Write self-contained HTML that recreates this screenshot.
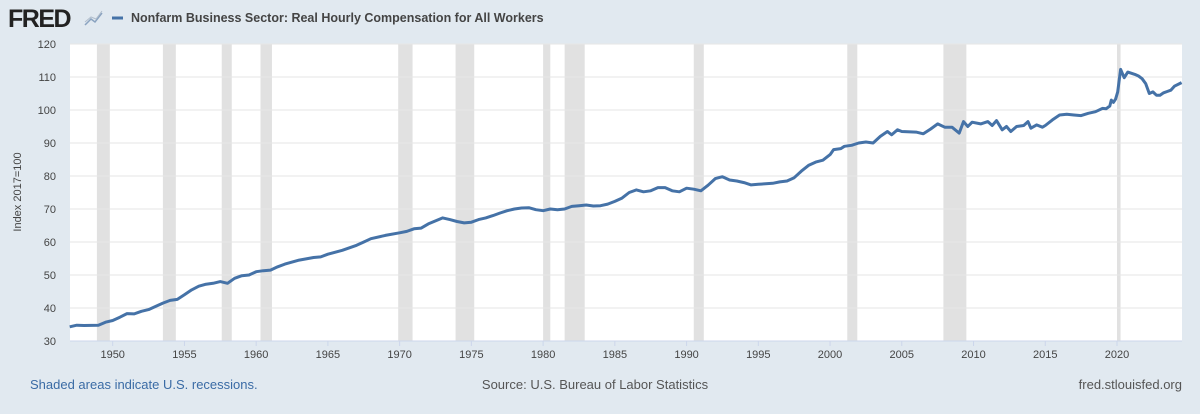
<!DOCTYPE html>
<html><head><meta charset="utf-8"><style>
body{margin:0;background:#e1e9f0;width:1200px;height:409px;overflow:hidden;font-family:"Liberation Sans",sans-serif}
</style></head><body>
<svg id="s" width="1200" height="409" xmlns="http://www.w3.org/2000/svg" font-family="Liberation Sans, sans-serif">
<rect width="1200" height="409" fill="#e1e9f0"/>
<text x="8" y="27" font-size="25" font-weight="bold" fill="#222" letter-spacing="-1.5">FRED</text>
<polyline points="85,25 91,19 95,22 102,13" fill="none" stroke="#8aa3c0" stroke-width="1.5"/>
<polyline points="85,22 91,17 96,19 102,11" fill="none" stroke="#b0bdcc" stroke-width="1"/>
<line x1="112" y1="18" x2="123" y2="18" stroke="#4572a7" stroke-width="3"/>
<text x="131" y="22" font-size="12.5" font-weight="bold" fill="#444">Nonfarm Business Sector: Real Hourly Compensation for All Workers</text>
<rect x="70" y="44" width="1112" height="297" fill="#fff"/>
<g id="rec" fill="#e1e1e1"></g>
<g id="grid" stroke="#e6e6e6" stroke-width="1"></g>
<g id="yl" font-size="11" fill="#444" text-anchor="end"></g>
<g id="xl" font-size="11" fill="#444" text-anchor="middle"></g>
<line x1="70" y1="341" x2="1182" y2="341" stroke="#ccd6eb"/>
<path id="p" fill="none" stroke="#4572a7" stroke-width="3" stroke-linejoin="round"/>
<text x="21" y="192" font-size="11" fill="#444" text-anchor="middle" transform="rotate(-90 21 192)">Index 2017=100</text>
<text x="30" y="389" font-size="13" fill="#3a6ba5">Shaded areas indicate U.S. recessions.</text>
<text x="595" y="389" font-size="13" fill="#555" text-anchor="middle">Source: U.S. Bureau of Labor Statistics</text>
<text x="1182" y="389" font-size="13" fill="#555" text-anchor="end">fred.stlouisfed.org</text>
</svg>
<script>
const X=y=>112.7+(y-1950)*14.347, Y=v=>341-(v-30)*3.3, ns="http://www.w3.org/2000/svg";
function el(p,t,a,txt){const e=document.createElementNS(ns,t);for(const k in a)e.setAttribute(k,a[k]);if(txt)e.textContent=txt;document.getElementById(p).appendChild(e);}
[[1948.9,1949.8],[1953.5,1954.4],[1957.6,1958.3],[1960.3,1961.1],[1969.9,1970.9],[1973.9,1975.2],[1980.0,1980.5],[1981.5,1982.9],[1990.5,1991.2],[2001.2,2001.9],[2007.9,2009.5],[2020.0,2020.25]].forEach(r=>el("rec","rect",{x:X(r[0]),y:44,width:X(r[1])-X(r[0]),height:297}));
for(let v=30;v<=120;v+=10){el("grid","line",{x1:70,x2:1182,y1:Y(v),y2:Y(v)});el("yl","text",{x:56,y:Y(v)+4},v);}
for(let y=1950;y<=2020;y+=5){el("grid","line",{x1:X(y),x2:X(y),y1:341,y2:346,stroke:"#ccd6eb"});el("xl","text",{x:X(y),y:358},y);}
const d=[[1947,34.3],[1947.5,34.8],[1948,34.7],[1949,34.8],[1949.5,35.7],[1950,36.2],[1950.5,37.2],[1951,38.3],[1951.5,38.2],[1952,39],[1952.5,39.5],[1953,40.5],[1953.5,41.5],[1954,42.3],[1954.5,42.6],[1955,44],[1955.5,45.5],[1956,46.6],[1956.5,47.2],[1957,47.5],[1957.5,48],[1958,47.5],[1958.5,49],[1959,49.8],[1959.5,50],[1960,51],[1960.5,51.3],[1961,51.5],[1961.5,52.5],[1962,53.3],[1963,54.5],[1964,55.3],[1964.5,55.5],[1965,56.3],[1966,57.5],[1967,59],[1967.5,60],[1968,61],[1969,62],[1970,62.8],[1970.5,63.2],[1971,64],[1971.5,64.2],[1972,65.5],[1973,67.3],[1973.5,66.8],[1974,66.2],[1974.5,65.8],[1975,66],[1975.5,66.8],[1976,67.3],[1976.5,68],[1977,68.8],[1977.5,69.5],[1978,70],[1978.5,70.3],[1979,70.4],[1979.5,69.8],[1980,69.5],[1980.5,70],[1981,69.8],[1981.5,70],[1982,70.8],[1982.5,71],[1983,71.2],[1983.5,70.9],[1984,71],[1984.5,71.5],[1985,72.3],[1985.5,73.3],[1986,75],[1986.5,75.8],[1987,75.2],[1987.5,75.5],[1988,76.5],[1988.5,76.5],[1989,75.5],[1989.5,75.2],[1990,76.3],[1990.5,76],[1991,75.5],[1991.5,77.2],[1992,79.2],[1992.5,79.8],[1993,78.8],[1993.5,78.5],[1994,78],[1994.5,77.3],[1995,77.5],[1996,77.8],[1996.5,78.2],[1997,78.5],[1997.5,79.5],[1998,81.5],[1998.5,83.2],[1999,84.2],[1999.5,84.8],[2000,86.5],[2000.25,88],[2000.75,88.3],[2001,89],[2001.5,89.3],[2002,90],[2002.5,90.3],[2003,90],[2003.5,92],[2004,93.5],[2004.3,92.5],[2004.7,94],[2005,93.5],[2006,93.3],[2006.5,92.8],[2007,94.2],[2007.5,95.8],[2008,94.8],[2008.5,94.8],[2009,93],[2009.3,96.5],[2009.6,95],[2009.9,96.3],[2010.5,95.8],[2011,96.5],[2011.3,95.3],[2011.6,96.8],[2012,94],[2012.3,95],[2012.6,93.5],[2013,95],[2013.5,95.3],[2013.8,96.5],[2014,94.5],[2014.4,95.5],[2014.8,94.8],[2015,95.3],[2015.5,97],[2016,98.5],[2016.5,98.7],[2017,98.5],[2017.5,98.3],[2018,99],[2018.5,99.5],[2019,100.5],[2019.25,100.4],[2019.5,101.2],[2019.6,103],[2019.75,102.3],[2019.9,103.3],[2020.05,105.5],[2020.25,112.3],[2020.5,109.8],[2020.75,111.5],[2021.25,110.8],[2021.5,110.3],[2021.75,109.5],[2022.0,108],[2022.25,105],[2022.5,105.5],[2022.75,104.5],[2023.0,104.5],[2023.25,105.2],[2023.5,105.6],[2023.75,106],[2024.0,107.2],[2024.5,108.3]];
const pts=d.map(([t,v])=>X(t).toFixed(1)+","+Y(v).toFixed(1));
document.getElementById("p").setAttribute("d","M"+pts.join("L"));
</script>
</body></html>
